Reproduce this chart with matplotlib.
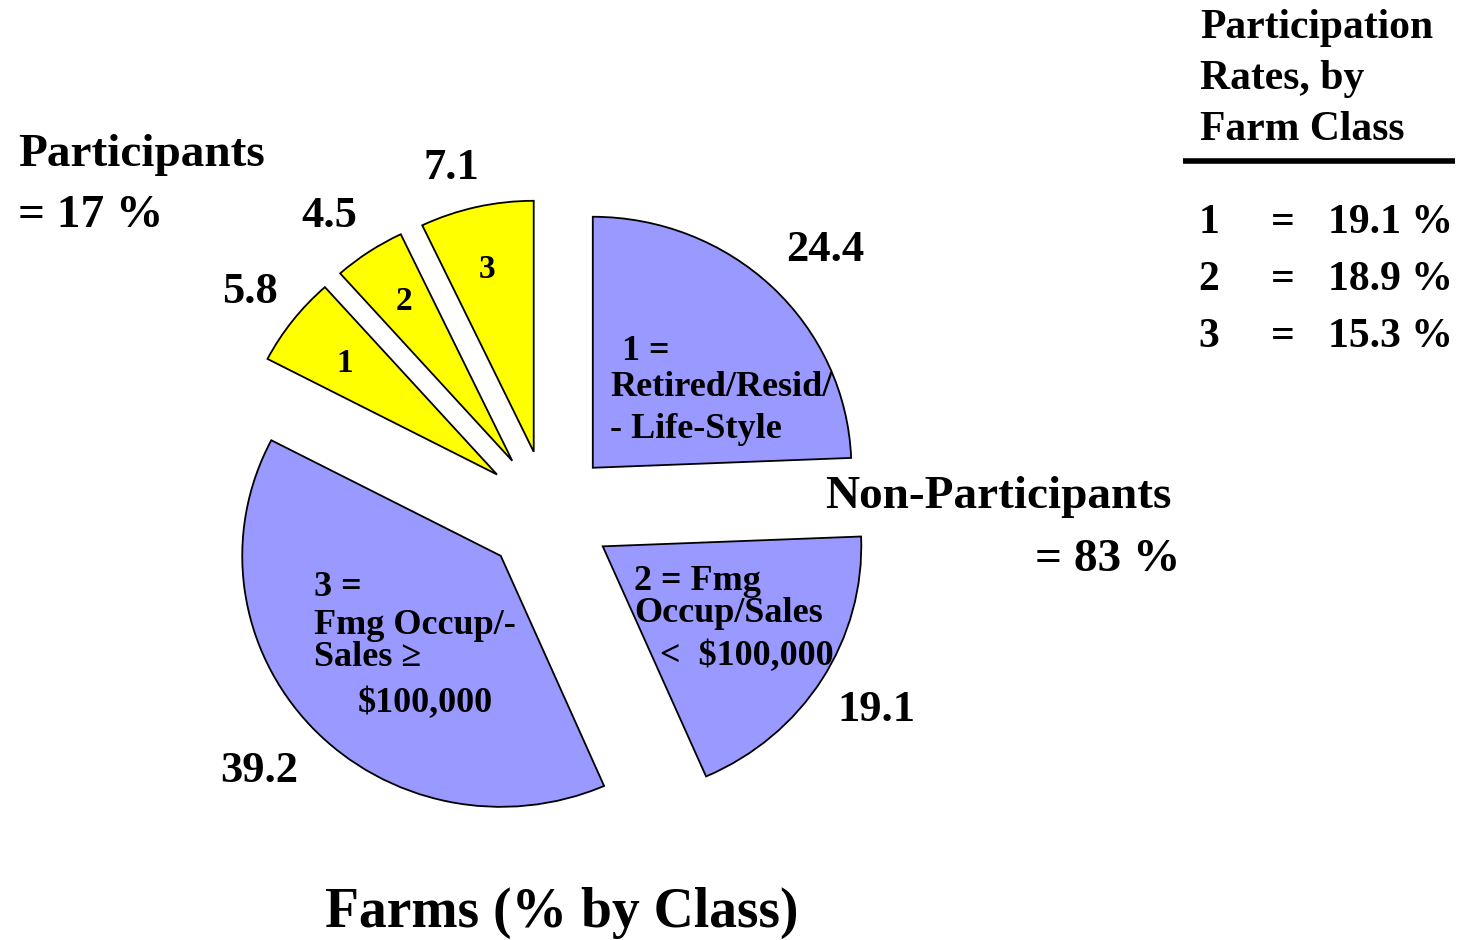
import matplotlib
matplotlib.use("Agg")
import matplotlib.pyplot as plt

# ---- data ----
slice_names = ["Retired/Resid/Life-Style", "Fmg Occup/Sales < $100,000",
               "Fmg Occup/Sales >= $100,000", "Participants class 1",
               "Participants class 2", "Participants class 3"]
slice_values = [24.4, 19.1, 39.2, 5.8, 4.5, 7.1]
slice_colors = ["#9999FF", "#9999FF", "#9999FF", "#FFFF00", "#FFFF00", "#FFFF00"]
legend_classes = ["1", "2", "3"]
participation_rates = [19.1, 18.9, 15.3]

W, H = 1465, 940
SX = 1.03  # slight horizontal stretch of the original drawing
FAM = ['Liberation Serif', 'DejaVu Serif']
plt.rcParams['font.family'] = FAM
plt.rcParams['font.weight'] = 'bold'

fig = plt.figure(figsize=(W / 100, H / 100), dpi=100)
ax = fig.add_axes([0, 0, 1, 1])

def X(x):
    return x / SX

def Y(y):
    return H - y

R = 251
ax.pie(slice_values, colors=slice_colors, startangle=90, counterclock=False,
       center=(X(548), Y(513)), radius=R, explode=[0.25 * R] * 6,
       wedgeprops=dict(edgecolor='black', linewidth=1.3), frame=True)
ax.set_xlim(0, X(W))
ax.set_ylim(0, H)
ax.set_aspect('auto')
ax.axis('off')

def t(x, y, s, size, ha='left', va='center'):
    ax.text(X(x), Y(y + 3), s, fontsize=size, fontweight='bold', ha=ha, va=va,
            family=FAM)

# value labels
val_pos = [(825, 247), (876, 707), (259, 768), (250, 289), (329, 213), (451, 165)]
for v, (x, y) in zip(slice_values, val_pos):
    t(x, y, f"{v:.1f}", 32, ha='center')

# yellow inner numbers
for c, (x, y) in zip(legend_classes, [(345, 360), (404, 299), (487, 266)]):
    t(x, y, c, 24, ha='center')

# inner labels of blue slices
IS = 26
t(622, 348, "1 =", IS)
t(610, 385, "Retired/Resid/", IS)
t(610, 427, "- Life-Style", IS)

t(634, 578, "2 = Fmg", IS)
t(634, 611, "Occup/Sales", IS)
t(660, 654, "<  $100,000", IS)

t(314, 585, "3 =", IS)
t(314, 623, "Fmg Occup/-", IS)
t(314, 655, "Sales \u2265", IS)
t(358, 701, "$100,000", IS)

# group labels
t(18, 152, "Participants", 34)
t(18, 213, "= 17 %", 34)
t(825, 494, "Non-Participants", 34)
t(1180, 557, "= 83 %", 34, ha='right')

# legend block
LS = 30
t(1200, 25, "Participation", LS)
t(1200, 76, "Rates, by", LS)
t(1200, 127, "Farm Class", LS)
ax.plot([X(1183), X(1455)], [Y(161), Y(161)], color='black', linewidth=4,
        solid_capstyle='butt')
for i, (c, r) in enumerate(zip(legend_classes, participation_rates)):
    y = 220 + 57 * i
    t(1209, y, c, LS, ha='center')
    t(1283, y, "=", LS, ha='center')
    t(1453, y, f"{r:.1f} %", LS, ha='right')

# title
t(562, 910, "Farms (% by Class)", 40, ha='center')

fig.savefig("out.png", dpi=100)
